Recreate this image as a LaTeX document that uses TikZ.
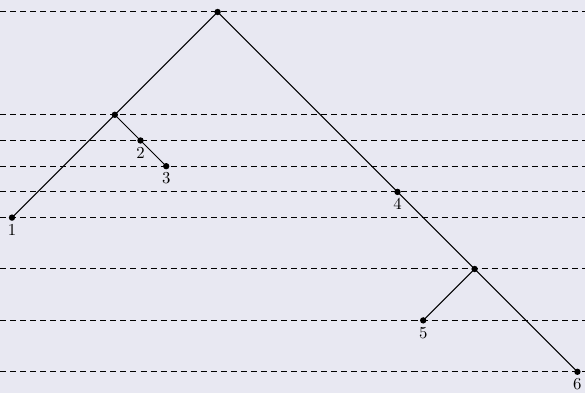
\documentclass[tikz,border=0pt]{standalone}
\definecolor{bgcol}{RGB}{232,232,242}
\begin{document}
\begin{tikzpicture}[x=0.54cm,y=0.54cm,
  pt/.style={circle,fill=black,inner sep=0pt,minimum size=3.8pt},
  lvl/.style={dash pattern=on 3.6pt off 2.4pt,line width=0.6pt},
  edge/.style={line width=0.6pt}]
\fill[bgcol] (-0.467,-0.825) rectangle (22.296,14.467);
\useasboundingbox (-0.467,-0.825) rectangle (22.296,14.467);
\foreach \y in {14,10,9,8,7,6,4,2,0}
  \draw[lvl] (-0.467,\y) -- (22.296,\y);
\node[pt] (r) at (8,14) {};
\node[pt] (a) at (4,10) {};
\node[pt,label={[inner sep=1.6pt]below:2}] (n2) at (5,9) {};
\node[pt,label={[inner sep=1.6pt]below:3}] (n3) at (6,8) {};
\node[pt,label={[inner sep=1.6pt]below:4}] (n4) at (15,7) {};
\node[pt,label={[inner sep=1.6pt]below:1}] (n1) at (0,6) {};
\node[pt] (b) at (18,4) {};
\node[pt,label={[inner sep=1.6pt]below:5}] (n5) at (16,2) {};
\node[pt,label={[inner sep=1.6pt]below:6}] (n6) at (22,0) {};
\draw[edge] (r.center) -- (a.center) -- (n1.center);
\draw[edge] (a.center) -- (n2.center) -- (n3.center);
\draw[edge] (r.center) -- (n4.center) -- (b.center) -- (n6.center);
\draw[edge] (b.center) -- (n5.center);
\end{tikzpicture}
\end{document}
